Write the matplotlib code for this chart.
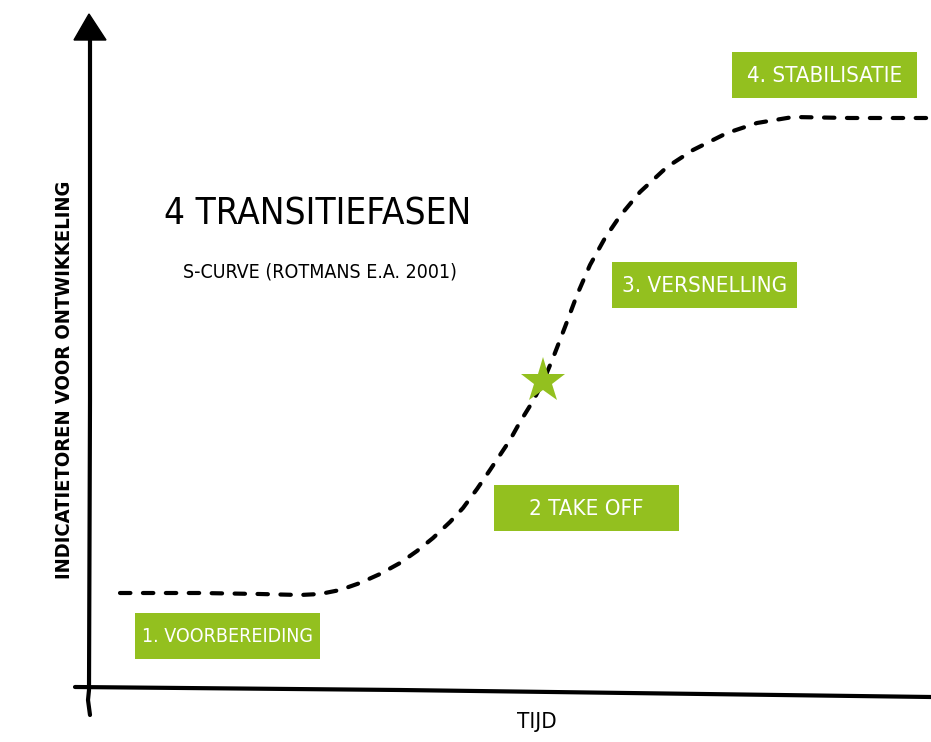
import matplotlib.pyplot as plt
import matplotlib.patches as patches

# S-curve (pixel coords, y grows downward)
curve_x = [120, 200, 260, 300, 320, 340, 360, 380, 400, 417, 433, 450, 463,
           477, 490, 500, 510, 520, 533, 543, 553, 565, 577, 590, 605, 620,
           640, 667, 693, 727, 757, 793, 850, 931]
curve_y = [593, 593, 594, 595, 594, 590, 583, 574, 563, 551, 538, 522, 508,
           489, 470, 455, 440, 422, 401, 382, 358, 327, 295, 265, 238, 216,
           192, 167, 150, 133, 123, 117, 118, 118]

phases = ["1. VOORBEREIDING", "2 TAKE OFF", "3. VERSNELLING", "4. STABILISATIE"]
phase_x = [135, 494, 612, 732]
phase_y = [613, 485, 262, 52]
box_w = 185
box_h = 46

star_xy = (543, 381)

title = "4 TRANSITIEFASEN"
subtitle = "S-CURVE (ROTMANS E.A. 2001)"
xlabel = "TIJD"
ylabel = "INDICATIETOREN VOOR ONTWIKKELING"

green = '#93c01f'
font = ['DejaVu Sans']

fig = plt.figure(figsize=(9.31, 7.42), dpi=100, facecolor='w')
ax = fig.add_axes([0, 0, 1, 1])
ax.set_xlim(0, 931)
ax.set_ylim(742, 0)
ax.axis('off')

# hand drawn axes
ax.plot([90, 90, 89, 88, 90], [38, 400, 690, 700, 715], color='k', lw=3,
        solid_capstyle='round')
ax.plot([75, 400, 931], [687, 690, 697], color='k', lw=3, solid_capstyle='round')
ax.add_patch(patches.Polygon([(89, 14), (74, 40), (106, 40)], closed=True,
                             color='k'))

# the curve
ax.plot(curve_x, curve_y, color='k', lw=3, linestyle=(0, (2.5, 3)),
        dash_capstyle='round')
ax.plot(*star_xy, marker='*', color=green, markersize=34, markeredgewidth=0)

# phase boxes
for name, bx, by in zip(phases, phase_x, phase_y):
    ax.add_patch(patches.Rectangle((bx, by), box_w, box_h, facecolor=green,
                                   edgecolor='none'))
    # shrink the long label so it stays inside its box
    fs = 14 if len(name) > 15 else 16
    ax.text(bx + box_w / 2, by + box_h / 2 + 1, name, color='white',
            fontsize=fs, family=font, fontstretch='condensed',
            ha='center', va='center')

ax.text(318, 214, title, fontsize=26.5, family=font, fontstretch='condensed',
        ha='center', va='center')
ax.text(320, 272, subtitle, fontsize=14, family=font, fontstretch='condensed',
        ha='center', va='center')
ax.text(537, 722, xlabel, fontsize=16, family=font, fontstretch='condensed',
        ha='center', va='center')
ax.text(65, 380, ylabel, fontsize=14.5, family=font, fontstretch='condensed',
        fontweight='bold', rotation=90, ha='center', va='center')

fig.savefig('out.png', dpi=100)
